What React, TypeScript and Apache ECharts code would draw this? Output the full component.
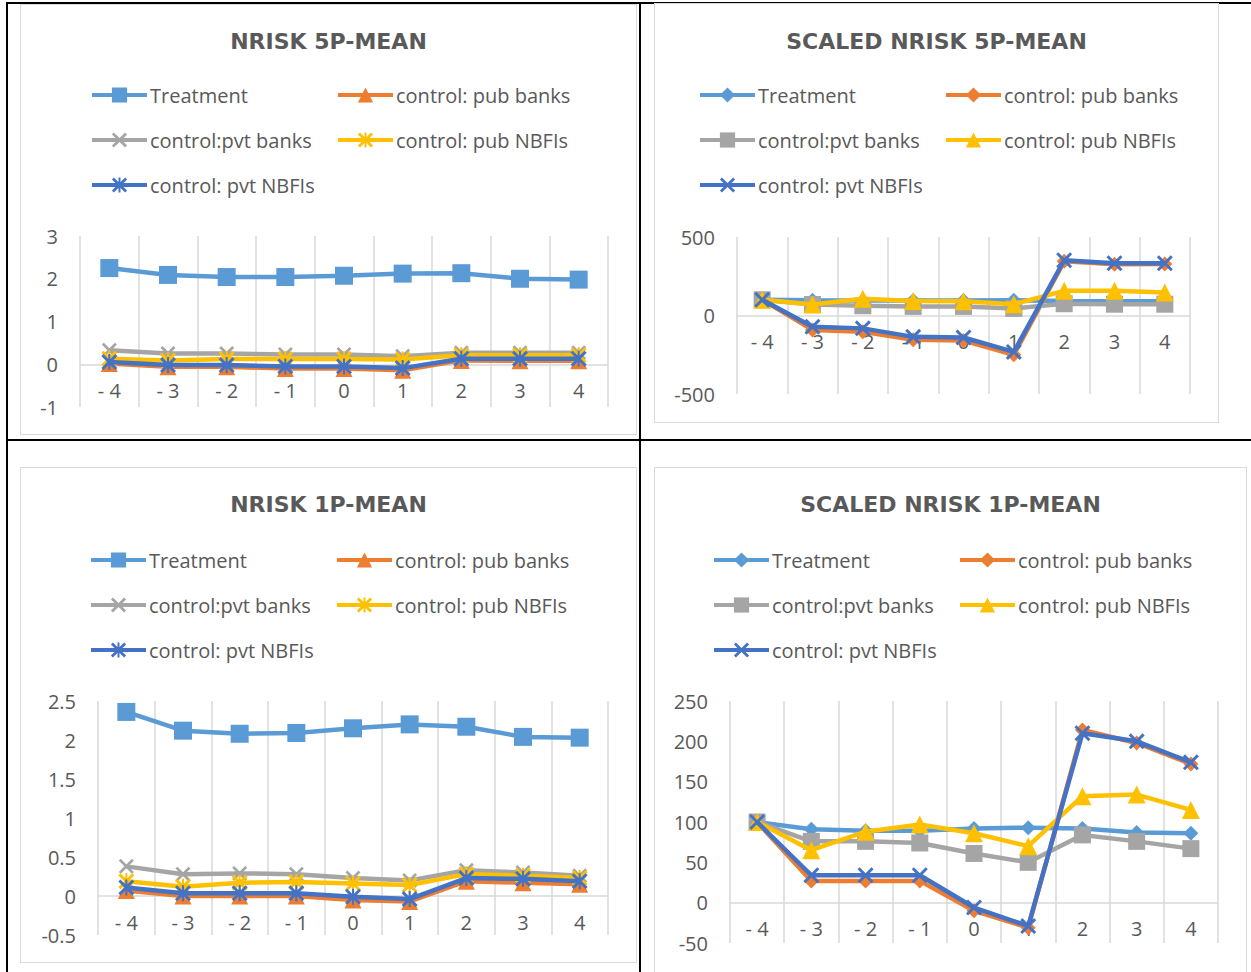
import React, { useEffect, useRef } from "react";
import * as echarts from "echarts";

// ---------- data ----------
const periods = ["- 4", "- 3", "- 2", "- 1", "0", "1", "2", "3", "4"];
const seriesNames = [
  "Treatment",
  "control: pub banks",
  "control:pvt banks",
  "control: pub NBFIs",
  "control: pvt NBFIs",
];
const seriesColors = ["#5B9BD5", "#ED7D31", "#A5A5A5", "#FFC000", "#4472C4"];

// NRISK 5P-MEAN
const n5Treatment = [2.25, 2.09, 2.04, 2.04, 2.07, 2.12, 2.13, 2.0, 1.98];
const n5PubBanks = [0.02, -0.06, -0.06, -0.1, -0.1, -0.14, 0.09, 0.08, 0.08];
const n5PvtBanks = [0.33, 0.25, 0.25, 0.23, 0.23, 0.19, 0.27, 0.27, 0.27];
const n5PubNBFIs = [0.13, 0.09, 0.12, 0.12, 0.12, 0.11, 0.21, 0.21, 0.21];
const n5PvtNBFIs = [0.05, -0.02, -0.02, -0.05, -0.05, -0.09, 0.13, 0.13, 0.13];

// SCALED NRISK 5P-MEAN
const s5Treatment = [100, 97, 96, 95, 96, 97, 92, 91, 91];
const s5PubBanks = [100, -92, -103, -155, -160, -250, 345, 326, 328];
const s5PvtBanks = [100, 70, 62, 58, 58, 45, 75, 72, 72];
const s5PubNBFIs = [100, 70, 107, 92, 91, 72, 157, 157, 146];
const s5PvtNBFIs = [100, -71, -82, -136, -140, -232, 352, 333, 333];

// NRISK 1P-MEAN
const n1Treatment = [2.36, 2.12, 2.08, 2.09, 2.15, 2.2, 2.17, 2.04, 2.03];
const n1PubBanks = [0.07, 0.0, 0.0, 0.0, -0.05, -0.07, 0.19, 0.17, 0.15];
const n1PvtBanks = [0.38, 0.28, 0.29, 0.28, 0.23, 0.2, 0.33, 0.3, 0.26];
const n1PubNBFIs = [0.19, 0.12, 0.17, 0.18, 0.16, 0.14, 0.28, 0.26, 0.23];
const n1PvtNBFIs = [0.11, 0.035, 0.035, 0.035, -0.01, -0.04, 0.23, 0.22, 0.19];

// SCALED NRISK 1P-MEAN
const s1Treatment = [100, 91, 89, 89, 92, 93, 92, 87, 86];
const s1PubBanks = [100, 27, 27, 27, -10, -31, 214, 198, 172];
const s1PvtBanks = [100, 76, 76, 74, 61, 50, 84, 76, 67];
const s1PubNBFIs = [100, 65, 88, 97, 86, 70, 132, 134, 115];
const s1PvtNBFIs = [100, 34, 34, 34, -6, -29, 210, 200, 174];

// ---------- marker shapes ----------
const X_D = "M0,1.3L1.3,0L5,3.7L8.7,0L10,1.3L6.3,5L10,8.7L8.7,10L5,6.3L1.3,10L0,8.7L3.7,5Z";
const SYM_X = "path://" + X_D;
const SYM_STAR = "path://" + X_D + "M4.35,0L5.65,0L5.65,10L4.35,10Z";

const FONT = "Open Sans";
const TITLE_FONT = "DejaVu Sans";
const TEXT_COLOR = "#595959";
const GRID_COLOR = "#d9d9d9";

type Cfg = {
  title: string;
  titleTop: number;
  legendX: [number, number];
  legendY: number[];
  grid: { left: number; top: number; width: number; height: number };
  yMin: number;
  yMax: number;
  yInterval: number;
  data: number[][];
  symbols: string[];
  sizes: number[];
};

function makeOption(cfg: Cfg) {
  const legends = seriesNames.map((n, i) => ({
    data: [n],
    left: cfg.legendX[i % 2],
    top: cfg.legendY[Math.floor(i / 2)] - 12,
    padding: 0,
    itemWidth: 55,
    itemHeight: 19,
    itemGap: 0,
    selectedMode: false,
    lineStyle: { width: 4 },
    textStyle: { fontFamily: FONT, fontSize: 20, color: TEXT_COLOR, padding: [0, 0, 0, -2] },
  }));
  const series = seriesNames.map((n, i) => ({
    type: "line",
    name: n,
    data: cfg.data[i],
    symbol: cfg.symbols[i],
    symbolSize: cfg.sizes[i],
    showAllSymbol: true,
    z: 2 + i,
    lineStyle: { width: 4.5, color: seriesColors[i] },
    itemStyle: { color: seriesColors[i] },
  }));
  // shift the category axis up to the zero line
  const zeroOffset = -cfg.grid.height * (0 - cfg.yMin) / (cfg.yMax - cfg.yMin);
  return {
    animation: false,
    backgroundColor: "#ffffff",
    title: {
      text: cfg.title,
      left: "center",
      top: cfg.titleTop,
      padding: 0,
      textStyle: { fontFamily: TITLE_FONT, fontWeight: "bold", fontSize: 22, color: TEXT_COLOR },
    },
    legend: legends,
    grid: { ...cfg.grid, containLabel: false },
    xAxis: [
      {
        type: "category",
        data: periods,
        boundaryGap: true,
        axisLine: { show: false },
        axisTick: { show: false },
        axisLabel: { show: false },
        splitLine: { show: true, interval: 0, lineStyle: { color: GRID_COLOR, width: 1.5 } },
      },
      {
        type: "category",
        data: periods,
        position: "bottom",
        offset: zeroOffset,
        boundaryGap: true,
        axisLine: { show: true, onZero: false, lineStyle: { color: GRID_COLOR, width: 1.5 } },
        axisTick: { show: false },
        axisLabel: { interval: 0, margin: 16, fontFamily: FONT, fontSize: 20, color: TEXT_COLOR },
        splitLine: { show: false },
      },
    ],
    yAxis: {
      type: "value",
      min: cfg.yMin,
      max: cfg.yMax,
      interval: cfg.yInterval,
      axisLine: { show: false },
      axisTick: { show: false },
      splitLine: { show: false },
      axisLabel: { margin: 22, fontFamily: FONT, fontSize: 20, color: TEXT_COLOR },
    },
    series,
  };
}

const plainSymbols = ["rect", "triangle", SYM_X, SYM_STAR, SYM_STAR];
const plainSizes = [18, 17, 15, 16, 16];
const scaledSymbols = ["diamond", "diamond", "rect", "triangle", SYM_X];
const scaledSizes = [15, 15, 17, 18, 16];

const charts: { frame: [number, number, number, number]; cfg: Cfg }[] = [
  {
    frame: [20, 4, 617, 431],
    cfg: {
      title: "NRISK 5P-MEAN",
      titleTop: 26,
      legendX: [70, 316],
      legendY: [93, 138, 183],
      grid: { left: 60, top: 232, width: 528, height: 171 },
      yMin: -1,
      yMax: 3,
      yInterval: 1,
      data: [n5Treatment, n5PubBanks, n5PvtBanks, n5PubNBFIs, n5PvtNBFIs],
      symbols: plainSymbols,
      sizes: plainSizes,
    },
  },
  {
    frame: [654, 3, 565, 420],
    cfg: {
      title: "SCALED NRISK 5P-MEAN",
      titleTop: 27,
      legendX: [44, 290],
      legendY: [94, 139, 184],
      grid: { left: 83, top: 234, width: 453, height: 157 },
      yMin: -500,
      yMax: 500,
      yInterval: 500,
      data: [s5Treatment, s5PubBanks, s5PvtBanks, s5PubNBFIs, s5PvtNBFIs],
      symbols: scaledSymbols,
      sizes: scaledSizes,
    },
  },
  {
    frame: [20, 467, 617, 496],
    cfg: {
      title: "NRISK 1P-MEAN",
      titleTop: 26,
      legendX: [69, 315],
      legendY: [95, 140, 185],
      grid: { left: 78, top: 234, width: 510, height: 234 },
      yMin: -0.5,
      yMax: 2.5,
      yInterval: 0.5,
      data: [n1Treatment, n1PubBanks, n1PvtBanks, n1PubNBFIs, n1PvtNBFIs],
      symbols: plainSymbols,
      sizes: plainSizes,
    },
  },
  {
    frame: [654, 467, 593, 520],
    cfg: {
      title: "SCALED NRISK 1P-MEAN",
      titleTop: 26,
      legendX: [58, 304],
      legendY: [95, 140, 185],
      grid: { left: 76, top: 234, width: 488, height: 242 },
      yMin: -50,
      yMax: 250,
      yInterval: 50,
      data: [s1Treatment, s1PubBanks, s1PvtBanks, s1PubNBFIs, s1PvtNBFIs],
      symbols: scaledSymbols,
      sizes: scaledSizes,
    },
  },
];

function ChartBox({ frame, cfg }: { frame: [number, number, number, number]; cfg: Cfg }) {
  const ref = useRef<HTMLDivElement>(null);
  useEffect(() => {
    if (!ref.current) return;
    const chart = echarts.init(ref.current, null, { renderer: "svg" });
    chart.setOption(makeOption(cfg) as any);
    return () => chart.dispose();
  }, []);
  const [x, y, w, h] = frame;
  return (
    <>
      <div ref={ref} style={{ position: "absolute", left: x, top: y, width: w, height: h }} />
      <div
        style={{
          position: "absolute",
          left: x,
          top: y,
          width: w,
          height: h,
          border: `1.5px solid ${GRID_COLOR}`,
          boxSizing: "border-box",
          pointerEvents: "none",
        }}
      />
    </>
  );
}

export default function App() {
  const black = "#000000";
  return (
    <div
      style={{
        position: "fixed",
        left: 0,
        top: 0,
        width: 1251,
        height: 972,
        overflow: "hidden",
        background: "#ffffff",
      }}
    >
      <div style={{ position: "absolute", left: 6, top: 2, width: 1245, height: 2, background: black }} />
      <div style={{ position: "absolute", left: 6, top: 439, width: 1245, height: 2, background: black }} />
      <div style={{ position: "absolute", left: 6, top: 2, width: 2, height: 970, background: black }} />
      <div style={{ position: "absolute", left: 639, top: 2, width: 2, height: 970, background: black }} />
      {charts.map((c, i) => (
        <ChartBox key={i} frame={c.frame} cfg={c.cfg} />
      ))}
    </div>
  );
}
